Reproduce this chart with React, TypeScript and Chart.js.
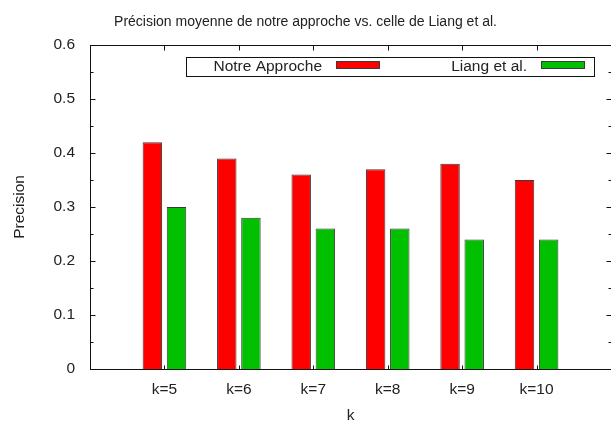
import React, { useEffect, useRef } from "react";
import { Chart, registerables } from "chart.js";

Chart.register(...registerables);

// ---- data ----
const TITLE = "Précision moyenne de notre approche vs. celle de Liang et al.";
const X_TITLE = "k";
const Y_TITLE = "Precision";
const categories = ["k=5", "k=6", "k=7", "k=8", "k=9", "k=10"];
const seriesNames = ["Notre Approche", "Liang et al."];
const notreApproche = [0.42, 0.39, 0.36, 0.37, 0.38, 0.35];
const liangEtAl = [0.30, 0.28, 0.26, 0.26, 0.24, 0.24];
const yTicks = [0, 0.1, 0.2, 0.3, 0.4, 0.5, 0.6];

// ---- style ----
const FONT = "'Liberation Sans', Arial, Helvetica, sans-serif";
const TEXT = "#222222";
const RED = "#ff0000";
const GREEN = "#00c000";
const EDGE = "#3a3a3a";
const FRAME = "#111111";
const colors = [RED, GREEN];

const framePlugin = {
  id: "gnuplotFrame",
  afterDatasetsDraw(chart: any) {
    const { ctx, chartArea: a, scales } = chart;
    const xs = scales.x;
    const ys = scales.y;
    const L = Math.round(a.left) + 0.5;
    const R = Math.round(a.right) + 0.5;
    const T = Math.round(a.top) + 0.5;
    const B = Math.round(a.bottom) + 0.5;
    ctx.save();
    ctx.strokeStyle = FRAME;
    ctx.lineWidth = 1;
    ctx.beginPath();
    for (let i = 0; i < yTicks.length; i++) {
      const py = Math.round(ys.getPixelForValue(yTicks[i])) + 0.5;
      ctx.moveTo(L, py); ctx.lineTo(L + 5, py);
      ctx.moveTo(R, py); ctx.lineTo(R - 5, py);
      if (i < yTicks.length - 1) {
        const mid = (yTicks[i] + yTicks[i + 1]) / 2;
        const pm = Math.round(ys.getPixelForValue(mid)) + 0.5;
        ctx.moveTo(L, pm); ctx.lineTo(L + 3, pm);
        ctx.moveTo(R, pm); ctx.lineTo(R - 3, pm);
      }
    }
    for (let i = 0; i < categories.length; i++) {
      const px = Math.round(xs.getPixelForValue(i + 1)) + 0.5;
      ctx.moveTo(px, B); ctx.lineTo(px, B - 4);
      ctx.moveTo(px, T); ctx.lineTo(px, T + 5);
    }
    ctx.stroke();
    ctx.strokeRect(L, T, R - L, B - T);

    // legend box (gnuplot style: text then sample)
    const boxR = Math.round(a.right) - 17;
    const boxW = 408;
    const boxL = boxR - boxW;
    const boxT = Math.round(a.top) + 12;
    const boxH = 19;
    ctx.strokeStyle = FRAME;
    ctx.strokeRect(boxL + 0.5, boxT + 0.5, boxW, boxH);
    ctx.font = `15.5px ${FONT}`;
    ctx.textBaseline = "middle";
    ctx.textAlign = "right";
    for (let i = 0; i < seriesNames.length; i++) {
      const off = boxL + i * 205;
      ctx.fillStyle = TEXT;
      ctx.fillText(seriesNames[i], off + 136, boxT + 10);
      ctx.fillStyle = colors[i];
      ctx.fillRect(off + 150, boxT + 4, 44, 8);
      ctx.strokeStyle = EDGE;
      ctx.strokeRect(off + 150.5, boxT + 4.5, 43, 7);
    }
    ctx.restore();
  },
};

export default function App() {
  const ref = useRef<HTMLCanvasElement | null>(null);

  useEffect(() => {
    if (!ref.current) return;
    const labels = ["", ...categories, ""];
    const mk = (vals: number[]) => [null, ...vals, null];
    const tickFont = { family: FONT, size: 15.5, weight: "normal" as const };
    const chart = new Chart(ref.current, {
      type: "bar",
      data: {
        labels,
        datasets: [
          {
            label: seriesNames[0],
            data: mk(notreApproche),
            backgroundColor: RED,
            borderColor: EDGE,
            borderWidth: 1,
            categoryPercentage: 0.649,
            barPercentage: 0.806,
          },
          {
            label: seriesNames[1],
            data: mk(liangEtAl),
            backgroundColor: GREEN,
            borderColor: EDGE,
            borderWidth: 1,
            categoryPercentage: 0.649,
            barPercentage: 0.806,
          },
        ],
      },
      options: {
        responsive: false,
        animation: false,
        events: [],
        layout: { padding: 0 },
        plugins: {
          legend: { display: false },
          tooltip: { enabled: false },
          title: {
            display: true,
            text: TITLE,
            color: TEXT,
            font: { family: FONT, size: 14, weight: "normal" },
            padding: { top: 13.6, bottom: 14.6 },
          },
        },
        scales: {
          x: {
            type: "category",
            offset: false,
            grid: { display: false, drawTicks: false },
            border: { display: false },
            ticks: {
              color: TEXT,
              font: tickFont,
              padding: 11,
              maxRotation: 0,
              autoSkip: false,
            },
            title: {
              display: true,
              text: X_TITLE,
              color: TEXT,
              font: tickFont,
              padding: { top: 0, bottom: -4 },
            },
            afterFit: (s: any) => {
              s.height = 52;
              s.paddingLeft = 0;
              s.paddingRight = 0;
            },
          },
          y: {
            type: "linear",
            min: 0,
            max: 0.6,
            grid: { display: false, drawTicks: false },
            border: { display: false },
            afterBuildTicks: (s: any) => {
              s.ticks = yTicks.map((v) => ({ value: v }));
            },
            ticks: {
              color: TEXT,
              font: tickFont,
              padding: 15,
              callback: (v: any) => String(v),
            },
            title: {
              display: true,
              text: Y_TITLE,
              color: TEXT,
              font: tickFont,
              padding: { top: 10, bottom: 0 },
            },
            afterFit: (s: any) => {
              s.width = 90;
            },
          },
        },
      },
      plugins: [framePlugin],
    });
    return () => chart.destroy();
  }, []);

  return (
    <div style={{ position: "absolute", left: 0, top: 0, width: 611, height: 421, background: "#fff" }}>
      <canvas ref={ref} width={611} height={421} style={{ display: "block" }} />
    </div>
  );
}
